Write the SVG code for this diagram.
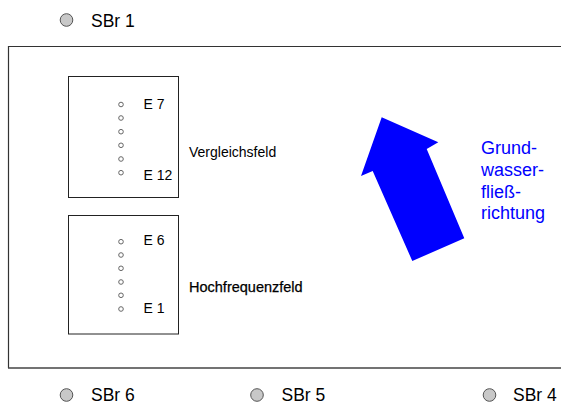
<svg xmlns="http://www.w3.org/2000/svg" width="561" height="405" viewBox="0 0 561 405">
<style>
text{font-family:"Liberation Sans",Arial,sans-serif;fill:#000}
.sbr{font-size:17.5px}
.lbl{font-size:14px}
.e{font-size:14px}
.well{fill:#c8c8c8;stroke:#555;stroke-width:1}
.dot{fill:#fff;stroke:#666;stroke-width:1}
.box{fill:#fff;stroke:#222;stroke-width:1}
.blue{fill:#0000ff;font-size:18px}
</style>
<rect width="561" height="405" fill="#fff"/>
<g id="area">
<path d="M561,46.5 H8.5 V368" fill="none" stroke="#333" stroke-width="1.2"/>
<path d="M8,368 H561" fill="none" stroke="#444" stroke-width="1.5"/>
</g>
<g id="sbr1"><circle class="well" cx="66.5" cy="20" r="6.3"/><text class="sbr" x="91" y="26.5">SBr 1</text></g>
<g id="sbr6"><circle class="well" cx="66.5" cy="395" r="6.3"/><text class="sbr" x="91" y="401">SBr 6</text></g>
<g id="sbr5"><circle class="well" cx="257" cy="395" r="6.3"/><text class="sbr" x="281.5" y="401">SBr 5</text></g>
<g id="sbr4"><circle class="well" cx="489.5" cy="395" r="6.3"/><text class="sbr" x="513" y="401">SBr 4</text></g>
<g id="vergleichsfeld">
<rect class="box" x="68.5" y="76.5" width="110" height="121"/>
<circle class="dot" cx="121" cy="104.5" r="2.3"/>
<circle class="dot" cx="121" cy="118" r="2.3"/>
<circle class="dot" cx="121" cy="131.7" r="2.3"/>
<circle class="dot" cx="121" cy="145.3" r="2.3"/>
<circle class="dot" cx="121" cy="159" r="2.3"/>
<circle class="dot" cx="121" cy="172.7" r="2.3"/>
<text class="e" x="143.5" y="108.5">E 7</text>
<text class="e" x="143.5" y="180">E 12</text>
<text class="lbl" x="189" y="157">Vergleichsfeld</text>
</g>
<g id="hochfrequenzfeld">
<rect class="box" x="68.5" y="215.5" width="110" height="118.5"/>
<circle class="dot" cx="121" cy="241.7" r="2.3"/>
<circle class="dot" cx="121" cy="255" r="2.3"/>
<circle class="dot" cx="121" cy="268.3" r="2.3"/>
<circle class="dot" cx="121" cy="282" r="2.3"/>
<circle class="dot" cx="121" cy="295.3" r="2.3"/>
<circle class="dot" cx="121" cy="309" r="2.3"/>
<text class="e" x="143.5" y="245">E 6</text>
<text class="e" x="143.5" y="313">E 1</text>
<text class="lbl" x="189" y="291.5" style="font-size:14.5px;stroke:#000;stroke-width:0.25">Hochfrequenzfeld</text>
</g>
<g id="flow">
<polygon points="381.7,117.3 438.3,142.3 426.7,149 464.3,238.3 412.3,261 372.7,171 361,176" fill="#0000ff"/>
<text class="blue" x="481" y="154">Grund-</text>
<text class="blue" x="481" y="176">wasser-</text>
<text class="blue" x="481" y="197.7">fließ-</text>
<text class="blue" x="481" y="219.3">richtung</text>
</g>
</svg>
